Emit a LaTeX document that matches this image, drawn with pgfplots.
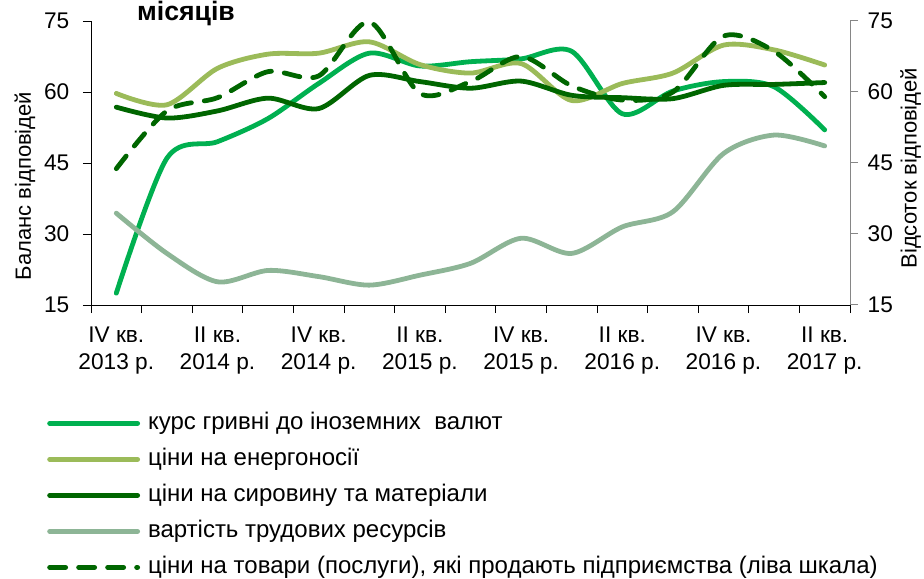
\documentclass[border=0pt]{standalone}
\usepackage{fontspec}
\setmainfont{Liberation Sans}
\usepackage{pgfplots}
\pgfplotsset{compat=1.18}
\usepackage{pgfplotstable}

\definecolor{cKurs}{HTML}{00B050}
\definecolor{cEnerg}{HTML}{9BBB59}
\definecolor{cSyr}{HTML}{006600}
\definecolor{cTrud}{HTML}{8DB596}
\definecolor{cAxis}{HTML}{868686}

\pgfplotstableread{
idx kurs energ syr trud price
0  17.5 59.7 56.8 34.4 43.8
1  46.0 57.3 54.5 25.9 56.0
2  49.5 65.0 56.0 19.9 58.8
3  54.4 68.0 58.7 22.3 64.3
4  61.8 68.2 56.5 21.0 63.4
5  68.2 70.6 63.5 19.2 74.8
6  65.5 65.8 62.2 21.3 59.7
7  66.4 64.0 60.8 23.8 62.2
8  67.0 66.0 62.3 29.1 67.5
9  68.6 58.2 59.3 25.9 61.3
10 55.4 61.8 58.8 31.5 58.3
11 60.2 64.0 58.6 34.7 60.0
12 62.2 69.9 61.4 47.0 71.8
13 61.1 68.9 61.6 50.9 68.6
14 52.0 65.7 62.0 48.6 59.0
}\data

\begin{document}
\begin{tikzpicture}
\path[use as bounding box] (0,0) rectangle (693pt,433.5pt);
\begin{axis}[
  at={(68.25pt,204.75pt)}, anchor=south west,
  scale only axis, width=569.25pt, height=213pt,
  xmin=-0.5, xmax=14.5, ymin=15, ymax=75,
  axis x line=bottom, axis y line=left,
  axis line style={-, black, line width=0.75pt},
  tick style={black, line width=0.75pt},
  tick align=outside, major tick length=6pt,
  xtick={-0.5,0.5,...,14.5}, xticklabels={},
  extra x ticks={0,2,...,14},
  extra x tick labels={{IV кв.\\2013 р.},{II кв.\\2014 р.},{IV кв.\\2014 р.},{II кв.\\2015 р.},{IV кв.\\2015 р.},{II кв.\\2016 р.},{IV кв.\\2016 р.},{II кв.\\2017 р.}},
  extra x tick style={major tick length=0pt, xticklabel style={align=center, yshift=-12.75pt}},
  ytick={15,30,...,75},
  yticklabel style={xshift=-6.75pt},
  /pgf/number format/assume math mode=true,
  tick label style={font=\fontsize{17}{20.25}\selectfont},
  ylabel={Баланс відповідей},
  ylabel style={font=\fontsize{16.5}{20}\selectfont, at={(axis description cs:-0.087,0.419)}, anchor=center},
  clip=false,
  every axis plot/.append style={line width=3.6pt, line cap=round, smooth},
  legend cell align=left,
  legend style={draw=none, fill=none, at={(axis description cs:-0.058,-0.376)}, anchor=north west, inner sep=0pt, row sep=10.0pt,
    nodes={inner sep=0pt, text height=13pt, text depth=4pt, font=\fontsize{18}{21}\selectfont},
    /tikz/every odd column/.append style={column sep=6pt}},
  legend image code/.code={\draw[#1] (0pt,0pt) -- (66pt,0pt);},
]
\addplot[cKurs] table[x=idx, y=kurs] {\data};
\addlegendentry{курс гривні до іноземних~ валют}
\addplot[cEnerg] table[x=idx, y=energ] {\data};
\addlegendentry{ціни на енергоносії}
\addplot[cSyr] table[x=idx, y=syr] {\data};
\addlegendentry{ціни на сировину та матеріали}
\addplot[cTrud] table[x=idx, y=trud] {\data};
\addlegendentry{вартість трудових ресурсів}
\addplot[cSyr, dash pattern=on 12pt off 9.75pt] table[x=idx, y=price] {\data};
\addlegendentry{ціни на товари (послуги), які продають підприємства (ліва шкала)}
\end{axis}
\begin{axis}[
  at={(68.25pt,204.75pt)}, anchor=south west,
  scale only axis, width=569.25pt, height=213pt,
  xmin=-0.5, xmax=14.5, ymin=15, ymax=75,
  axis x line=none, axis y line=right,
  axis line style={-, cAxis, line width=0.75pt},
  tick style={cAxis, line width=0.75pt},
  tick align=outside, major tick length=6pt,
  ytick={15,30,...,75},
  yticklabel style={xshift=3.75pt},
  /pgf/number format/assume math mode=true,
  tick label style={font=\fontsize{17}{20.25}\selectfont, text=black},
  ylabel={Відсоток відповідей},
  ylabel style={font=\fontsize{16.5}{20}\selectfont, at={(axis description cs:1.080,0.482)}, anchor=center},
]
\addplot[draw=none] coordinates {(0,15)};
\end{axis}
\node[font=\bfseries\fontsize{20}{24}\selectfont, anchor=base] at (139.5pt,418.0pt) {місяців};
\end{tikzpicture}
\end{document}
